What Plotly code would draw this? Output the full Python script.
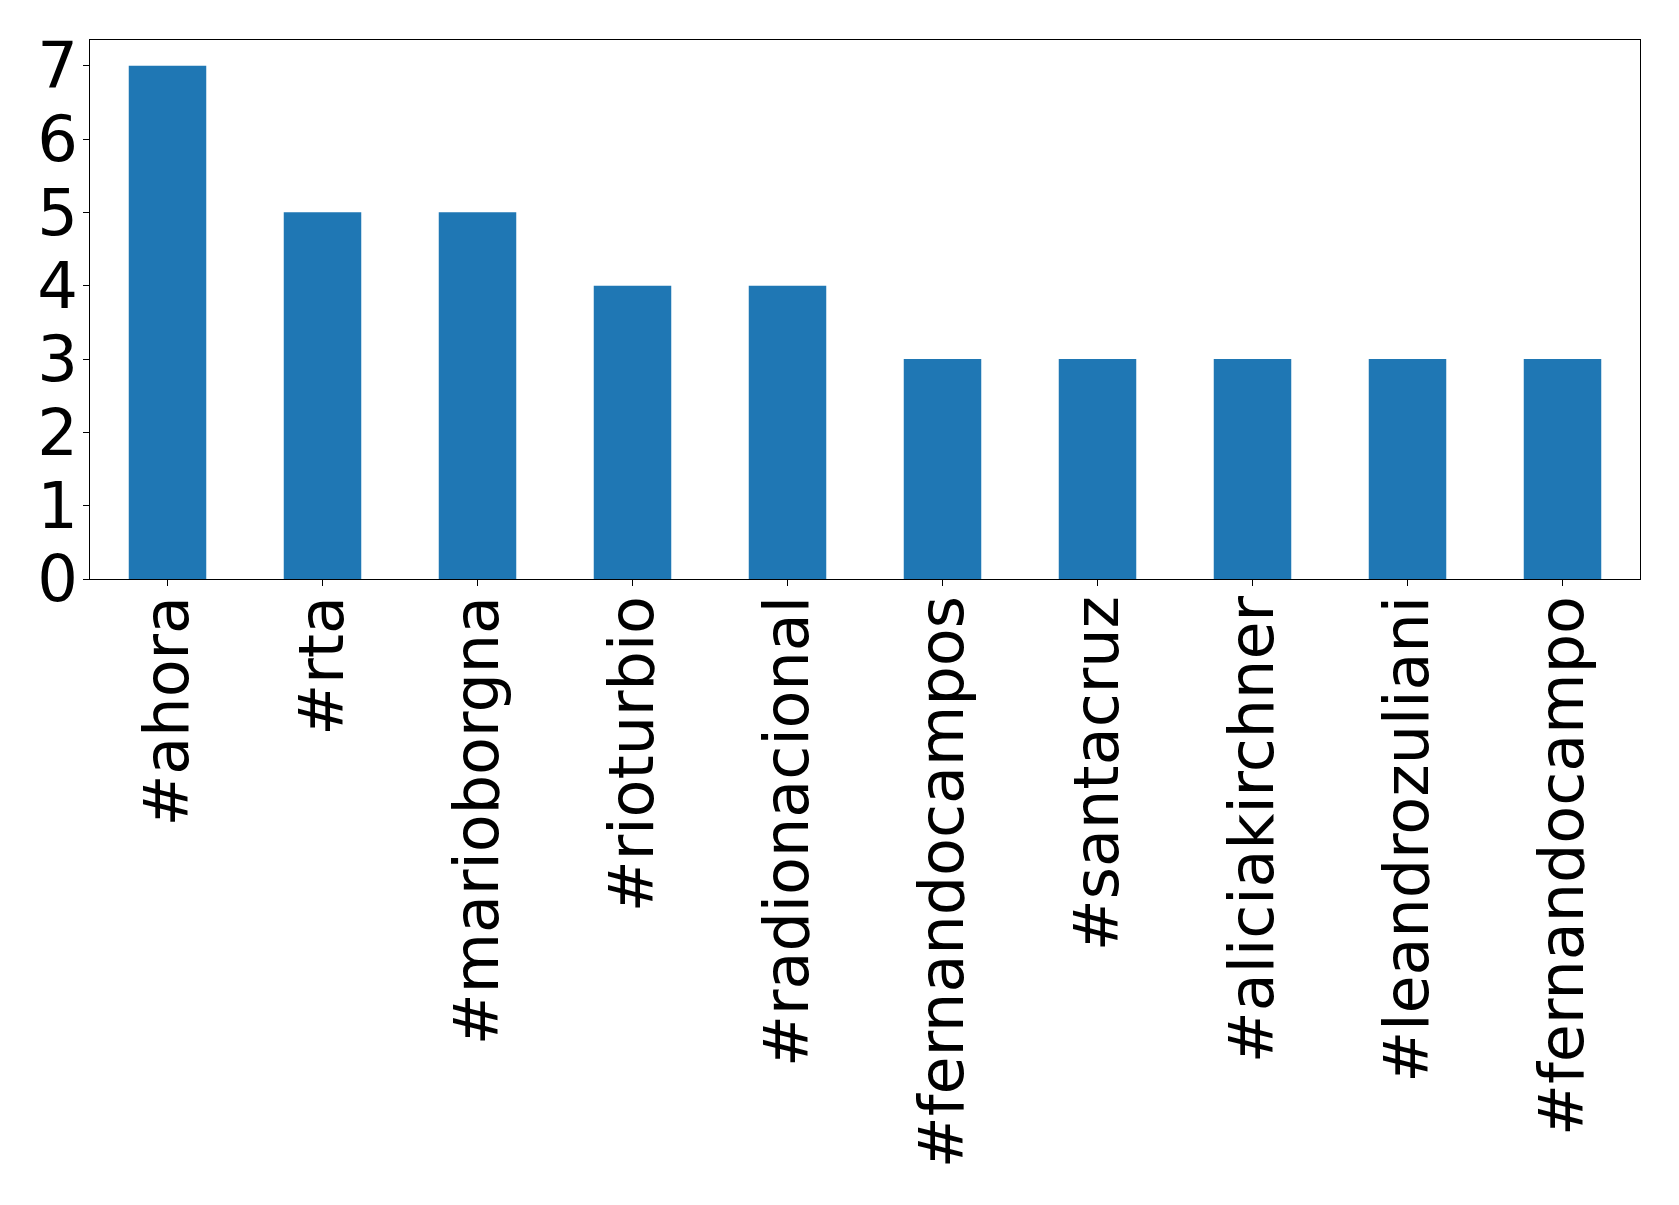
import plotly.graph_objects as go

hashtags = ["#ahora", "#rta", "#marioborgna", "#rioturbio", "#radionacional",
            "#fernandocampos", "#santacruz", "#aliciakirchner", "#leandrozuliani",
            "#fernandocampo"]
counts = [7, 5, 5, 4, 4, 3, 3, 3, 3, 3]
y_ticks = [0, 1, 2, 3, 4, 5, 6, 7]

fig = go.Figure()
fig.add_trace(go.Bar(x=hashtags, y=counts, width=0.5, marker=dict(color="#1f77b4", line=dict(width=0))))

fig.update_layout(
    width=1671, height=1197,
    margin=dict(l=82, r=39, t=32, b=626, autoexpand=False),
    plot_bgcolor="white", paper_bgcolor="white",
    font=dict(family="DejaVu Sans", size=64, color="black"),
    showlegend=False,
    bargap=0.5,
)
fig.update_xaxes(
    type="category", range=[-0.5, 9.5], automargin=False,
    tickangle=-90, ticks="outside", ticklen=6, tickwidth=1.3, tickcolor="black",
    showline=True, linecolor="black", linewidth=1.3, mirror=True,
    showgrid=False, tickfont=dict(size=62), ticklabelstandoff=-15,
)
fig.update_yaxes(
    range=[0, 7.35], tickvals=y_ticks, automargin=False,
    ticks="outside", ticklen=6, tickwidth=1.3, tickcolor="black",
    showline=True, linecolor="black", linewidth=1.3, mirror=True,
    showgrid=False, zeroline=False, tickfont=dict(size=64), ticklabelstandoff=-8,
)

fig.write_html("out.html")
